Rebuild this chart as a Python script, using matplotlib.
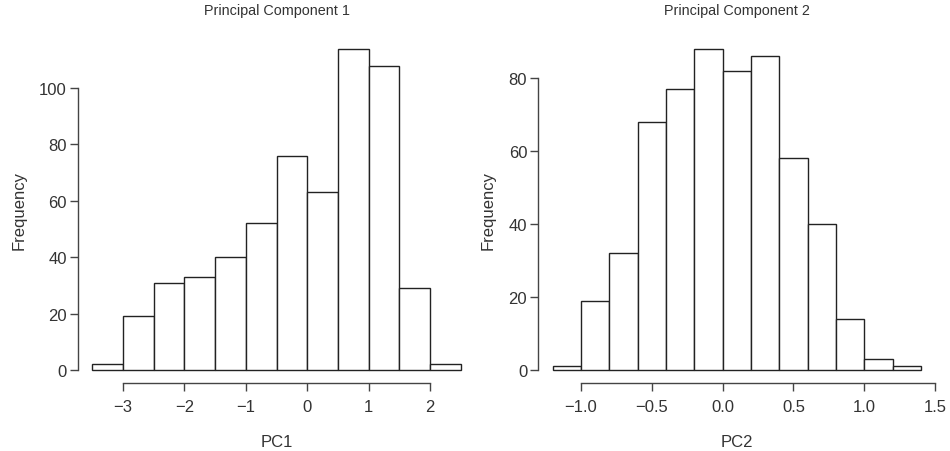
import matplotlib
matplotlib.use("Agg")
import matplotlib.pyplot as plt
import numpy as np

# PC1 histogram: bin edges and counts
pc1_edges = [-3.5, -3.0, -2.5, -2.0, -1.5, -1.0, -0.5, 0.0, 0.5, 1.0, 1.5, 2.0, 2.5]
pc1_counts = [2, 19, 31, 33, 40, 52, 76, 63, 114, 108, 29, 2]
pc1_xticks = [-3, -2, -1, 0, 1, 2]
pc1_xticklabels = ["\u22123", "\u22122", "\u22121", "0", "1", "2"]
pc1_yticks = [0, 20, 40, 60, 80, 100]

# PC2 histogram
pc2_edges = [-1.2, -1.0, -0.8, -0.6, -0.4, -0.2, 0.0, 0.2, 0.4, 0.6, 0.8, 1.0, 1.2, 1.4]
pc2_counts = [1, 19, 32, 68, 77, 88, 82, 86, 58, 40, 14, 3, 1]
pc2_xticks = [-1.0, -0.5, 0.0, 0.5, 1.0, 1.5]
pc2_xticklabels = ["\u22121.0", "\u22120.5", "0.0", "0.5", "1.0", "1.5"]
pc2_yticks = [0, 20, 40, 60, 80]

plt.rcParams['font.family'] = ['Liberation Sans', 'DejaVu Sans']
TXT = '#333333'
FS = 12
FS_TITLE = 10.4

fig = plt.figure(figsize=(9.5, 4.52), dpi=100)

def draw(rect, edges, counts, xticks, xticklabels, yticks, title, xlabel):
    ax = fig.add_axes(rect)
    e = np.array(edges)
    c = np.array(counts)
    ax.bar(e[:-1], c, width=np.diff(e), align='edge', color='white',
           edgecolor='#222222', linewidth=1.0)
    xr = e[-1] - e[0]
    ax.set_xlim(e[0] - 0.04 * xr, e[-1] + 0.04 * xr)
    ymax = c.max()
    ax.set_ylim(-0.04 * ymax, ymax * 1.04)
    for s in ['top', 'right']:
        ax.spines[s].set_visible(False)
    ax.spines['left'].set_bounds(yticks[0], yticks[-1])
    ax.spines['bottom'].set_bounds(xticks[0], xticks[-1])
    for s in ['left', 'bottom']:
        ax.spines[s].set_color('#444444')
        ax.spines[s].set_linewidth(1.0)
    ax.set_xticks(xticks)
    ax.set_xticklabels(xticklabels)
    ax.set_yticks(yticks)
    ax.set_yticklabels([str(v) for v in yticks])
    ax.tick_params(axis='both', direction='out', length=5.8, width=1.0,
                   color='#444444', labelcolor=TXT, labelsize=FS)
    ax.tick_params(axis='x', pad=6)
    ax.tick_params(axis='y', pad=2)
    ax.set_title(title, fontsize=FS_TITLE, color=TXT, pad=16)
    ax.set_xlabel(xlabel, fontsize=FS, color=TXT, labelpad=14)
    ax.set_ylabel('Frequency', fontsize=FS, color=TXT, labelpad=9)
    return ax

draw([0.0817, 0.1507, 0.419, 0.768], pc1_edges, pc1_counts, pc1_xticks,
     pc1_xticklabels, pc1_yticks, 'Principal Component 1', 'PC1')
draw([0.5663, 0.1507, 0.4185, 0.768], pc2_edges, pc2_counts, pc2_xticks,
     pc2_xticklabels, pc2_yticks, 'Principal Component 2', 'PC2')

fig.savefig('out.png', dpi=100)
